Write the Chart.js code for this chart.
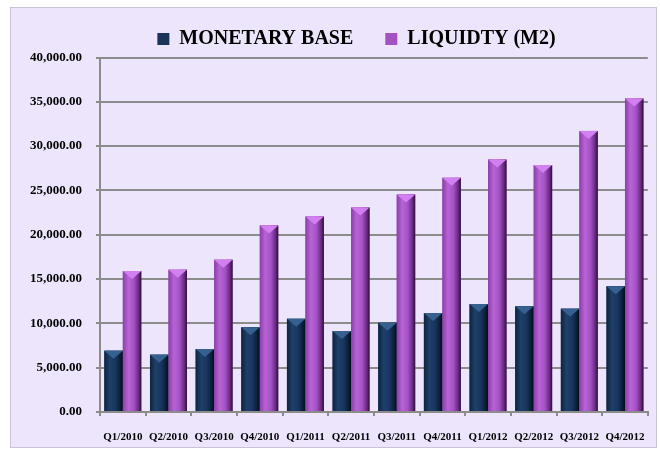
<!DOCTYPE html>
<html>
<head>
<meta charset="utf-8">
<script src="https://cdn.jsdelivr.net/npm/chart.js@4/dist/chart.umd.min.js"></script>
<style>
  html, body { margin: 0; padding: 0; background: #ffffff; }
  #wrap { width: 660px; height: 457px; }
</style>
</head>
<body>
<div id="wrap"><canvas id="c" width="660" height="457"></canvas></div>
<script>
const categories = ["Q1/2010","Q2/2010","Q3/2010","Q4/2010","Q1/2011","Q2/2011","Q3/2011","Q4/2011","Q1/2012","Q2/2012","Q3/2012","Q4/2012"];
const monetaryBase = [6920, 6470, 7100, 9550, 10510, 9130, 10080, 11160, 12180, 11920, 11660, 14200];
const liquidity = [15900, 16060, 17190, 21050, 22060, 23080, 24550, 26430, 28500, 27860, 31720, 35380];
const seriesNames = ["MONETARY BASE", "LIQUIDTY (M2)"];
const yMin = 0, yMax = 40000, yStep = 5000;

const serif = "'Liberation Serif', 'Times New Roman', serif";

const panelPlugin = {
  id: 'panel',
  beforeDraw(chart) {
    const ctx = chart.ctx;
    ctx.save();
    ctx.fillStyle = '#ffffff';
    ctx.fillRect(0, 0, chart.width, chart.height);
    ctx.fillStyle = '#ECE5FC';
    ctx.fillRect(10, 7, 647, 441);
    ctx.strokeStyle = '#c8c3d8';
    ctx.lineWidth = 1;
    ctx.strokeRect(10.5, 7.5, 646, 440);
    ctx.restore();
  }
};

const legendPatch = {
  id: 'legendPatch',
  afterInit(chart) {
    const lg = chart.legend;
    if (lg && !lg._patched) {
      const origFit = lg.fit;
      lg.fit = function() { origFit.call(this); this.height = 62.5; };
      const origDraw = lg.draw;
      lg.draw = function() {
        const ctx = this.ctx;
        ctx.save();
        ctx.translate(27, 2);
        origDraw.apply(this, arguments);
        ctx.restore();
      };
      lg._patched = true;
    }
  }
};

const palettes = [
  [[0, '#0d2340'], [0.3, '#1f4068'], [0.6, '#183660'], [0.85, '#0c1f3a'], [1, '#040b16']],
  [[0, '#8a3fa8'], [0.3, '#b863d6'], [0.6, '#a352c4'], [0.85, '#6a2a82'], [1, '#2a0f36']]
];
const topColors = ['#35608f', '#d27ff0'];

const bevelPlugin = {
  id: 'bevel',
  afterDatasetsDraw(chart) {
    const ctx = chart.ctx;
    chart.data.datasets.forEach((ds, di) => {
      const meta = chart.getDatasetMeta(di);
      meta.data.forEach(bar => {
        const p = bar.getProps(['x', 'y', 'base', 'width'], true);
        const left = p.x - p.width / 2, right = p.x + p.width / 2;
        const g = ctx.createLinearGradient(left, 0, right, 0);
        palettes[di].forEach(s => g.addColorStop(s[0], s[1]));
        ctx.save();
        ctx.fillStyle = g;
        ctx.fillRect(left, p.y, p.width, p.base - p.y);
        const h = Math.min(8, (p.base - p.y) / 2);
        ctx.fillStyle = topColors[di];
        ctx.beginPath();
        ctx.moveTo(left, p.y);
        ctx.lineTo(right, p.y);
        ctx.lineTo(p.x, p.y + h);
        ctx.closePath();
        ctx.fill();
        ctx.restore();
      });
    });
  }
};

new Chart(document.getElementById('c'), {
  type: 'bar',
  data: {
    labels: categories,
    datasets: [
      { label: seriesNames[0], data: monetaryBase, backgroundColor: '#1a3558', borderWidth: 0 },
      { label: seriesNames[1], data: liquidity, backgroundColor: '#a352c4', borderWidth: 0 }
    ]
  },
  plugins: [panelPlugin, legendPatch, bevelPlugin],
  options: {
    responsive: false,
    animation: false,
    devicePixelRatio: 1,
    layout: { padding: { left: 10, right: 11, top: -5, bottom: 0 } },
    datasets: { bar: { categoryPercentage: 0.81, barPercentage: 1.0 } },
    plugins: {
      legend: {
        position: 'top',
        labels: {
          boxWidth: 12,
          boxHeight: 12,
          padding: 32,
          color: '#000000',
          font: { family: serif, size: 20, weight: 'bold' }
        }
      },
      tooltip: { enabled: false }
    },
    scales: {
      x: {
        grid: { display: true, drawOnChartArea: false, color: '#8c8c8c', lineWidth: 2, tickLength: 4, offset: true },
        border: { display: true, color: '#8c8c8c', width: 2 },
        ticks: { color: '#000000', font: { family: serif, size: 11, weight: 'bold' }, padding: 15, maxRotation: 0, autoSkip: false },
        afterFit(scale) { scale.height = 45; }
      },
      y: {
        min: yMin, max: yMax,
        grid: { color: '#8c8c8c', lineWidth: 2, tickLength: 4 },
        border: { display: true, color: '#8c8c8c', width: 2 },
        ticks: {
          stepSize: yStep,
          color: '#000000',
          padding: 14,
          font: { family: serif, size: 13, weight: 'bold' },
          callback: v => Number(v).toLocaleString('en-US', { minimumFractionDigits: 2, maximumFractionDigits: 2 })
        },
        afterFit(scale) { scale.width = 90; }
      }
    }
  }
});
</script>
</body>
</html>
